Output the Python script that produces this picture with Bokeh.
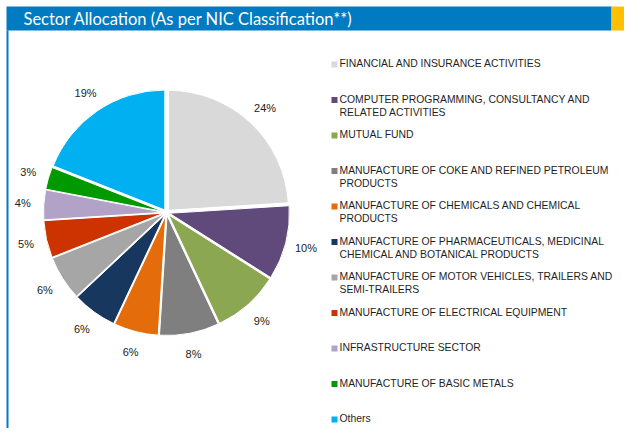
import math
import textwrap
from bokeh.plotting import figure
from bokeh.models import Range1d, ColumnDataSource
from bokeh.core.properties import value
from bokeh.embed import file_html
from bokeh.resources import INLINE

# ---- data ----
title_text = "Sector Allocation (As per NIC Classification**)"
categories = [
    "FINANCIAL AND INSURANCE ACTIVITIES",
    "COMPUTER PROGRAMMING, CONSULTANCY AND RELATED ACTIVITIES",
    "MUTUAL FUND",
    "MANUFACTURE OF COKE AND REFINED PETROLEUM PRODUCTS",
    "MANUFACTURE OF CHEMICALS AND CHEMICAL PRODUCTS",
    "MANUFACTURE OF PHARMACEUTICALS, MEDICINAL CHEMICAL AND BOTANICAL PRODUCTS",
    "MANUFACTURE OF MOTOR VEHICLES, TRAILERS AND SEMI-TRAILERS",
    "MANUFACTURE OF ELECTRICAL EQUIPMENT",
    "INFRASTRUCTURE SECTOR",
    "MANUFACTURE OF BASIC METALS",
    "Others",
]
shares = [24, 10, 9, 8, 6, 6, 6, 5, 4, 3, 19]
colors = ["#D9D9D9", "#604A7B", "#8BA752", "#7F7F7F", "#E46C0A", "#17375E",
          "#A6A6A6", "#CC3300", "#B3A2C7", "#009A00", "#00B0F0"]

# ---- layout (picture pixels mapped 1:1 to data units) ----
W, H = 624, 428
X0, X1 = 0, 624
Y0, Y1 = 16, 444
def fy(ref_y):
    return 444 - ref_y

p = figure(width=W, height=H, x_range=Range1d(X0, X1), y_range=Range1d(Y0, Y1),
           output_backend="svg", toolbar_location=None,
           x_axis_location=None, y_axis_location=None, min_border=0)
p.grid.visible = False
p.outline_line_color = None
p.background_fill_color = "white"
p.border_fill_color = "white"

# header bar
p.quad(left=[6], right=[611], bottom=[fy(30)], top=[fy(6)],
       fill_color="#007AC0", line_color=None)
p.quad(left=[611], right=[X1], bottom=[fy(30)], top=[fy(6)],
       fill_color="#FFC000", line_color=None)
# left border
p.quad(left=[6], right=[8], bottom=[Y0], top=[fy(30)],
       fill_color="#007AC0", line_color=None)
p.text(x=[23], y=[fy(18.5)], text=[title_text], text_color="white",
       text_font=value("Lato"), text_font_size="16.5px",
       text_baseline="middle", text_align="left")

# ---- pie ----
cx, cy = 166, fy(212)
R = 120
explode = 3
label_r = 144
total = sum(shares)
starts, ends, xs, ys, lx, ly, labels = [], [], [], [], [], [], []
cum = 0.0
for v in shares:
    a0 = math.pi / 2 - 2 * math.pi * cum / total
    cum += v
    a1 = math.pi / 2 - 2 * math.pi * cum / total
    mid = (a0 + a1) / 2
    starts.append(a0)
    ends.append(a1)
    xs.append(cx + explode * math.cos(mid))
    ys.append(cy + explode * math.sin(mid))
    lx.append(cx + label_r * math.cos(mid))
    ly.append(cy + label_r * math.sin(mid))
    labels.append(f"{v}%")

src = ColumnDataSource(dict(x=xs, y=ys, start=starts, end=ends, color=colors))
p.wedge(x="x", y="y", radius=R, start_angle="start", end_angle="end",
        direction="clock", fill_color="color", line_color="white",
        line_width=1, source=src)
p.text(x=lx, y=ly, text=labels, text_color="#222222",
       text_font=value("Liberation Sans"), text_font_size="11px",
       text_align="center", text_baseline="middle")

# ---- legend ----
leg_x_sq = 334
leg_x_txt = 339
leg_y0 = 64
leg_step = 35.5
sq_x, sq_y, t_x, t_y, t_text = [], [], [], [], []
for i, name in enumerate(categories):
    yy = leg_y0 + leg_step * i
    sq_x.append(leg_x_sq)
    sq_y.append(fy(yy))
    t_x.append(leg_x_txt)
    t_y.append(fy(yy - 6.5))
    t_text.append("\n".join(textwrap.wrap(name, 43)))
p.rect(x=sq_x, y=sq_y, width=6, height=6, fill_color=colors, line_color=None)
p.text(x=t_x, y=t_y, text=t_text, text_color="#1F1F1F",
       text_font=value("Liberation Sans"), text_font_size="10.4px",
       text_align="left", text_baseline="top", text_line_height=1.2)

open("out.html", "w").write(file_html(p, INLINE))
